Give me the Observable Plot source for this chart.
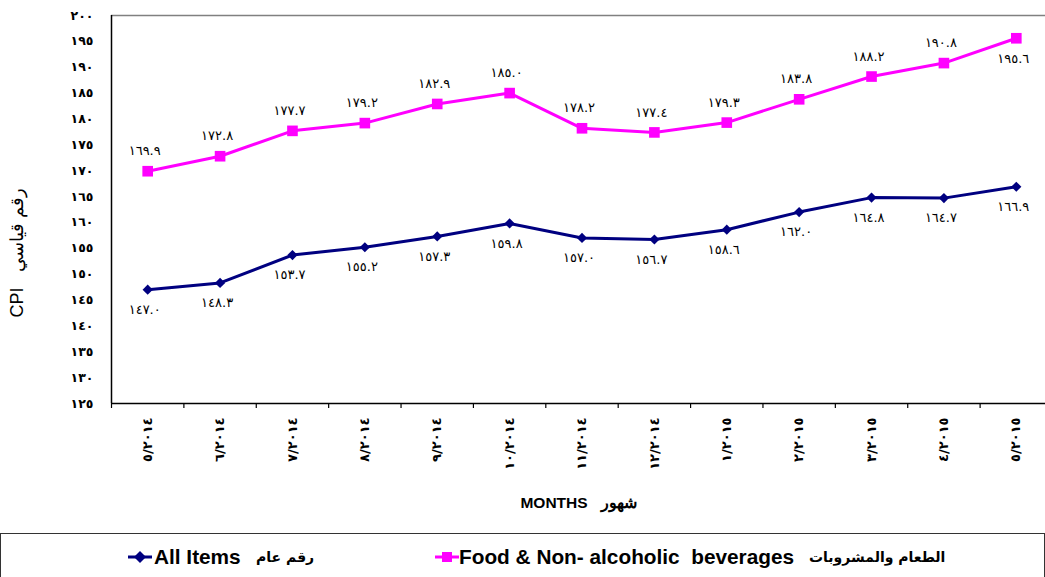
<!DOCTYPE html>
<html><head><meta charset="utf-8">
<script src="https://cdn.jsdelivr.net/npm/d3@7"></script>
<script src="https://cdn.jsdelivr.net/npm/@observablehq/plot@0.6"></script>
<style>
body{margin:0;background:#fff;font-family:"Liberation Sans",Arial,sans-serif;}
#wrap{position:relative;width:1045px;height:577px;overflow:hidden;}
#chart{position:absolute;left:0;top:0;}
#legend{position:absolute;left:0;top:533px;width:1043px;height:60px;border:1px solid #333;}
.item{position:absolute;top:0;height:46px;line-height:46px;white-space:nowrap;font-weight:bold;font-size:20.8px;color:#000;}
.ar{font-family:"DejaVu Sans",sans-serif;font-size:14px;}
.mk{position:absolute;top:16px;}
</style></head><body><div id="wrap"><div id="chart"></div><div id="legend"></div></div>
<script>
const months = ["5/2014","6/2014","7/2014","8/2014","9/2014","10/2014","11/2014","12/2014","1/2015","2/2015","3/2015","4/2015","5/2015"];
const allItems = [147.0,148.3,153.7,155.2,157.3,159.8,157.0,156.7,158.6,162.0,164.8,164.7,166.9];
const food = [169.9,172.8,177.7,179.2,182.9,185.0,178.2,177.4,179.3,183.8,188.2,190.8,195.6];
const yTicks = d3.range(125, 201, 5);
const allName = "All Items";
const allNameAr = "رقم عام";
const foodName = "Food & Non- alcoholic  beverages";
const foodNameAr = "الطعام والمشروبات";
const xTitle = "MONTHS   شهور";
const yTitle = "CPI   رقم قياسي";

const AR = "٠١٢٣٤٥٦٧٨٩";
const ar = s => String(s).replace(/\d/g, c => AR[+c]);
const ar1 = v => ar(v.toFixed(1));

const NAVY = "#000080", MAG = "#FF00FF";
const rows = months.map((m, i) => ({i, month: m, all: allItems[i], food: food[i]}));
const last = rows.length - 1;

const chart = Plot.plot({
  width: 1045,
  height: 530,
  marginLeft: 111,
  marginRight: 0,
  marginTop: 15,
  marginBottom: 127,
  style: {fontFamily: "DejaVu Sans, sans-serif", background: "transparent"},
  x: {type: "linear", domain: [-0.5, rows.length - 0.5], range: [111, 1052]},
  y: {domain: [125, 200]},
  marks: [
    Plot.ruleY([200], {stroke: "#808080", strokeWidth: 1.5}),
    Plot.ruleY([125], {stroke: "#000", strokeWidth: 1.5}),
    Plot.ruleX([-0.5], {stroke: "#000", strokeWidth: 1.5}),
    Plot.axisY(yTicks, {tickSize: 0, tickPadding: 18, tickFormat: ar, fontWeight: "bold", fontSize: 12.5, label: null}),
    Plot.axisX(d3.range(-0.5, rows.length, 1), {tickSize: 5, tickFormat: () => "", label: null, strokeWidth: 1.2}),
    Plot.axisX(d3.range(rows.length), {tickSize: 0, tickPadding: 14, tickRotate: -90, tickFormat: i => ar(months[i]), fontWeight: "bold", fontSize: 13, label: null, ariaLabel: "xlabels"}),
    Plot.text([xTitle], {frameAnchor: "bottom", dy: 104, fontSize: 15.5, fontWeight: "bold", fontFamily: "Liberation Sans, Arial, sans-serif"}),
    Plot.text([yTitle], {frameAnchor: "bottom-left", dx: -89, dy: -86, rotate: -90, textAnchor: "start", fontSize: 18, fontFamily: "Liberation Sans, Arial, sans-serif"}),
    Plot.line(rows, {x: "i", y: "food", stroke: MAG, strokeWidth: 3}),
    Plot.line(rows, {x: "i", y: "all", stroke: NAVY, strokeWidth: 3}),
    Plot.dot(rows, {x: "i", y: "food", symbol: "square", r: 6, fill: MAG, stroke: "none"}),
    Plot.dot(rows, {x: "i", y: "all", symbol: "diamond2", r: 4.6, fill: NAVY, stroke: "none"}),
    Plot.text(rows.filter(d => d.i < last), {x: "i", y: "food", text: d => ar1(d.food), dy: -20, dx: -3, fontSize: 13, ariaLabel: "vals"}),
    Plot.text(rows.filter(d => d.i === last), {x: "i", y: "food", text: d => ar1(d.food), dy: 21, dx: -3, fontSize: 13, ariaLabel: "vals"}),
    Plot.text(rows, {x: "i", y: "all", text: d => ar1(d.all), dy: 20, dx: -3, fontSize: 13, ariaLabel: "vals"})
  ]
});
d3.select(chart).selectAll('g[aria-label="vals"] text').style("letter-spacing", "1.8px");
d3.select(chart).selectAll('g[aria-label="xlabels"] text').style("letter-spacing", "1.5px");
document.getElementById("chart").appendChild(chart);

// legend
const legend = d3.select("#legend");
function marker(left, color, shape) {
  const s = legend.append("svg").attr("class", "mk").style("left", left + "px").attr("width", 26).attr("height", 14);
  s.append("line").attr("x1", 1).attr("x2", 25).attr("y1", 7).attr("y2", 7).attr("stroke", color).attr("stroke-width", 3);
  if (shape === "square") s.append("rect").attr("x", 8).attr("y", 2).attr("width", 10).attr("height", 10).attr("fill", color);
  else s.append("path").attr("d", "M13,1L19,7L13,13L7,7Z").attr("fill", color);
}
marker(126, NAVY, "diamond");
legend.append("span").attr("class", "item").style("left", "153px").text(allName);
legend.append("span").attr("class", "item ar").style("left", "255px").text(allNameAr);
marker(433, MAG, "square");
legend.append("span").attr("class", "item").style("left", "458px").style("white-space", "pre").text(foodName);
legend.append("span").attr("class", "item ar").style("left", "808px").text(foodNameAr);
</script></body></html>
